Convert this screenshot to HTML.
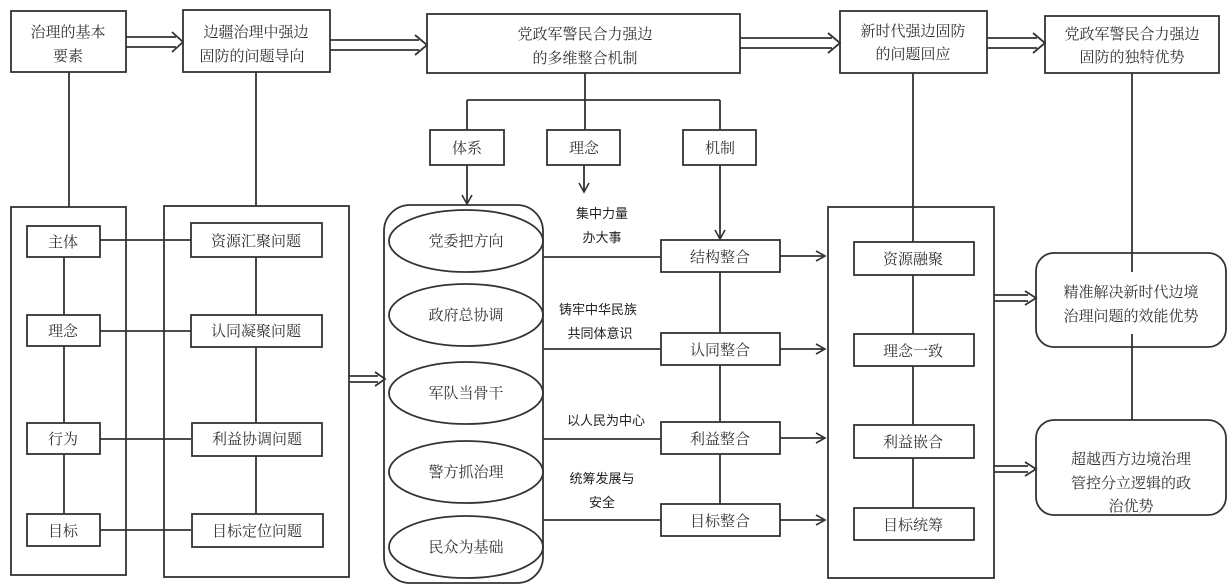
<!DOCTYPE html>
<html><head><meta charset="utf-8"><style>
html,body{margin:0;padding:0;background:#fff;}
svg{display:block;}
text{font-family:"Liberation Serif","Noto Serif CJK SC",serif;font-size:15px;fill:#333;text-anchor:middle;}
.s{font-family:"Liberation Sans","Noto Sans CJK SC",sans-serif;font-size:13px;fill:#222;}
</style></head><body>
<svg width="1230" height="588" viewBox="0 0 1230 588" xmlns="http://www.w3.org/2000/svg">
<defs>
<marker id="a" markerWidth="12" markerHeight="12" refX="10" refY="6" orient="auto" markerUnits="userSpaceOnUse"><path d="M1,1 L10,6 L1,11" fill="none" stroke="#333" stroke-width="1.6"/></marker>
</defs>
<g fill="none" stroke="#333" stroke-width="1.8">
<!-- top boxes -->
<rect x="11" y="11" width="115" height="61"/>
<rect x="183" y="10" width="147" height="62"/>
<rect x="427" y="14" width="313" height="59"/>
<rect x="840" y="11" width="147" height="62"/>
<rect x="1045" y="16" width="174" height="57"/>
<!-- double arrows -->
<path d="M126,37 H176 M126,47 H176 M172,32 L183,42 L172,52"/>
<path d="M330,40 H419 M330,50 H419 M415,35 L427,45 L415,55"/>
<path d="M740,38 H832 M740,48 H832 M828,33 L840,43 L828,53"/>
<path d="M987,38 H1037 M987,48 H1037 M1033,33 L1045,43 L1033,53"/>
<path d="M349,376 H378 M349,382 H378 M375,372 L385,379 L375,386"/>
<path d="M994,295 H1028 M994,301 H1028 M1025,291 L1036,298 L1025,305"/>
<path d="M994,466 H1028 M994,472 H1028 M1025,462 L1036,469 L1025,476"/>
<!-- left panels -->
<line x1="69" y1="72" x2="69" y2="207"/>
<rect x="11" y="207" width="115" height="368"/>
<line x1="256" y1="72" x2="256" y2="206"/>
<rect x="164" y="206" width="185" height="371"/>
<line x1="64" y1="257" x2="64" y2="514"/>
<line x1="256" y1="257" x2="256" y2="514"/>
<line x1="100" y1="240" x2="191" y2="240"/>
<line x1="100" y1="331" x2="191" y2="331"/>
<line x1="100" y1="439" x2="191" y2="439"/>
<line x1="100" y1="530" x2="191" y2="530"/>
<rect x="27" y="226" width="73" height="31" fill="#fff"/>
<rect x="27" y="315" width="73" height="31" fill="#fff"/>
<rect x="27" y="423" width="73" height="31" fill="#fff"/>
<rect x="27" y="514" width="73" height="32" fill="#fff"/>
<rect x="191" y="223" width="131" height="34" fill="#fff"/>
<rect x="191" y="315" width="131" height="32" fill="#fff"/>
<rect x="192" y="423" width="130" height="33" fill="#fff"/>
<rect x="192" y="514" width="131" height="33" fill="#fff"/>
<!-- middle tree -->
<line x1="585" y1="73" x2="585" y2="130"/>
<line x1="467" y1="100" x2="720" y2="100"/>
<line x1="467" y1="100" x2="467" y2="130"/>
<line x1="720" y1="100" x2="720" y2="130"/>
<rect x="430" y="130" width="74" height="35"/>
<rect x="547" y="130" width="73" height="35"/>
<rect x="683" y="130" width="73" height="35"/>
<line x1="467" y1="165" x2="467" y2="204" marker-end="url(#a)"/>
<line x1="584" y1="165" x2="584" y2="192" marker-end="url(#a)"/>
<line x1="720" y1="165" x2="720" y2="239" marker-end="url(#a)"/>
<!-- cylinder -->
<rect x="384" y="205" width="159" height="378" rx="26"/>
<ellipse cx="466" cy="241" rx="77" ry="31"/>
<ellipse cx="466" cy="315" rx="77" ry="31"/>
<ellipse cx="466" cy="393" rx="77" ry="31"/>
<ellipse cx="466" cy="472" rx="77" ry="31"/>
<ellipse cx="466" cy="547" rx="77" ry="31"/>
<!-- integration lines -->
<line x1="543" y1="257" x2="661" y2="257"/>
<line x1="543" y1="349" x2="661" y2="349"/>
<line x1="543" y1="439" x2="661" y2="439"/>
<line x1="543" y1="520" x2="661" y2="520"/>
<line x1="720" y1="272" x2="720" y2="504"/>
<rect x="661" y="240" width="119" height="32" fill="#fff"/>
<rect x="661" y="333" width="119" height="32" fill="#fff"/>
<rect x="661" y="422" width="119" height="32" fill="#fff"/>
<rect x="661" y="504" width="119" height="32" fill="#fff"/>
<line x1="780" y1="256" x2="825" y2="256" marker-end="url(#a)"/>
<line x1="780" y1="349" x2="825" y2="349" marker-end="url(#a)"/>
<line x1="780" y1="438" x2="825" y2="438" marker-end="url(#a)"/>
<line x1="780" y1="520" x2="825" y2="520" marker-end="url(#a)"/>
<!-- right panel -->
<line x1="913" y1="73" x2="913" y2="242"/>
<rect x="828" y="207" width="166" height="371"/>
<line x1="913" y1="275" x2="913" y2="508"/>
<rect x="854" y="242" width="120" height="33" fill="#fff"/>
<rect x="854" y="334" width="120" height="32" fill="#fff"/>
<rect x="854" y="425" width="120" height="33" fill="#fff"/>
<rect x="854" y="508" width="120" height="32" fill="#fff"/>
<line x1="1132" y1="73" x2="1132" y2="272"/>
<line x1="1132" y1="334" x2="1132" y2="420"/>
<rect x="1036" y="253" width="190" height="94" rx="18"/>
<rect x="1036" y="420" width="190" height="95" rx="18"/>
</g>
<text x="68" y="37">治理的基本</text><text x="68" y="61">要素</text>
<text x="256" y="37">边疆治理中强边</text><text x="252" y="61">固防的问题导向</text>
<text x="585" y="39">党政军警民合力强边</text><text x="585" y="63">的多维整合机制</text>
<text x="913" y="36">新时代强边固防</text><text x="913" y="59">的问题回应</text>
<text x="1132" y="39">党政军警民合力强边</text><text x="1132" y="62">固防的独特优势</text>
<text x="63" y="247">主体</text><text x="63" y="336">理念</text><text x="63" y="444">行为</text><text x="63" y="536">目标</text>
<text x="256" y="246">资源汇聚问题</text><text x="256" y="336">认同凝聚问题</text><text x="257" y="444">利益协调问题</text><text x="257" y="536">目标定位问题</text>
<text x="467" y="153">体系</text><text x="584" y="153">理念</text><text x="720" y="153">机制</text>
<text x="466" y="246">党委把方向</text><text x="466" y="320">政府总协调</text><text x="466" y="398">军队当骨干</text><text x="466" y="477">警方抓治理</text><text x="466" y="552">民众为基础</text>
<text class="s" x="602" y="218">集中力量</text><text class="s" x="602" y="242">办大事</text>
<text class="s" x="598" y="314">铸牢中华民族</text><text class="s" x="600" y="338">共同体意识</text>
<text class="s" x="606" y="425">以人民为中心</text>
<text class="s" x="602" y="483">统筹发展与</text><text class="s" x="602" y="507">安全</text>
<text x="720" y="262">结构整合</text><text x="720" y="355">认同整合</text><text x="720" y="444">利益整合</text><text x="720" y="526">目标整合</text>
<text x="913" y="264">资源融聚</text><text x="913" y="356">理念一致</text><text x="913" y="447">利益嵌合</text><text x="913" y="530">目标统筹</text>
<text x="1131" y="297">精准解决新时代边境</text><text x="1131" y="321">治理问题的效能优势</text>
<text x="1131" y="464">超越西方边境治理</text><text x="1131" y="488">管控分立逻辑的政</text><text x="1131" y="511">治优势</text>
</svg>
</body></html>
